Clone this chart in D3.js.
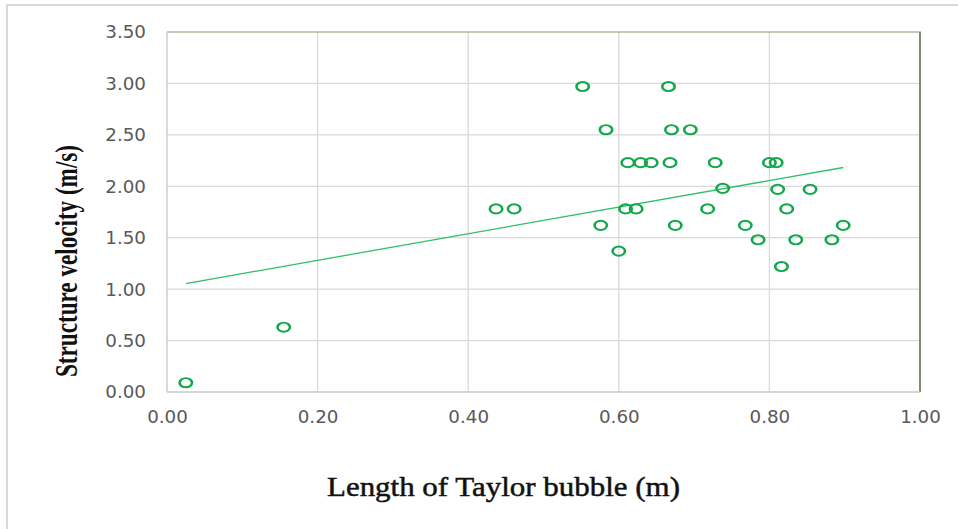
<!DOCTYPE html>
<html>
<head>
<meta charset="utf-8">
<script src="https://cdn.jsdelivr.net/npm/d3@7"></script>
<style>
  html, body { margin: 0; padding: 0; background: #fff; }
  svg { display: block; }
</style>
</head>
<body>
<svg id="chart" width="958" height="529"></svg>
<script>
// ---- data ----
const lengthX = [0.025, 0.155, 0.437, 0.461, 0.552, 0.583, 0.576, 0.600, 0.612, 0.609, 0.623, 0.629, 0.643, 0.666, 0.670, 0.668, 0.675, 0.695, 0.718, 0.728, 0.738, 0.768, 0.785, 0.800, 0.809, 0.811, 0.816, 0.823, 0.835, 0.854, 0.883, 0.898];
const velocityY = [0.09, 0.63, 1.78, 1.78, 2.97, 2.55, 1.62, 1.37, 2.23, 1.78, 1.78, 2.23, 2.23, 2.97, 2.55, 2.23, 1.62, 2.55, 1.78, 2.23, 1.98, 1.62, 1.48, 2.23, 2.23, 1.97, 1.22, 1.78, 1.48, 1.97, 1.48, 1.62];
const xTicks = [0, 0.2, 0.4, 0.6, 0.8, 1.0];
const yTicks = [0, 0.5, 1.0, 1.5, 2.0, 2.5, 3.0, 3.5];
const xTitle = "Length of Taylor bubble (m)";
const yTitle = "Structure velocity (m/s)";

const svg = d3.select("#chart");
const W = 958, H = 529;
const plot = {left: 167, right: 920, top: 32, bottom: 392};

const x = d3.scaleLinear().domain([0, 1]).range([plot.left, plot.right]);
const y = d3.scaleLinear().domain([0, 3.5]).range([plot.bottom, plot.top]);

// outer chart border
svg.append("rect").attr("x", 7).attr("y", 5).attr("width", W + 20).attr("height", H + 20)
  .attr("fill", "#fff").attr("stroke", "#d9d9d9").attr("stroke-width", 2);

// gridlines
const g = svg.append("g");
g.selectAll(".hg").data(yTicks.filter(d => d > 0 && d < 3.5)).join("line")
  .attr("x1", plot.left).attr("x2", plot.right)
  .attr("y1", d => y(d)).attr("y2", d => y(d))
  .attr("stroke", "#d9d9d9").attr("stroke-width", 1.3);
g.selectAll(".vg").data(xTicks.filter(d => d > 0 && d < 1)).join("line")
  .attr("y1", plot.top).attr("y2", plot.bottom)
  .attr("x1", d => x(d)).attr("x2", d => x(d))
  .attr("stroke", "#d9d9d9").attr("stroke-width", 1.3);

// top and right plot border (olive)
g.append("line").attr("x1", plot.left).attr("x2", plot.right + 1)
  .attr("y1", plot.top).attr("y2", plot.top)
  .attr("stroke", "#819873").attr("stroke-width", 1.2);
g.append("line").attr("x1", plot.right).attr("x2", plot.right)
  .attr("y1", plot.top).attr("y2", plot.bottom)
  .attr("stroke", "#7b8f6b").attr("stroke-width", 2);

// axes lines
g.append("line").attr("x1", plot.left).attr("x2", plot.left)
  .attr("y1", plot.top).attr("y2", plot.bottom)
  .attr("stroke", "#c8c8c8").attr("stroke-width", 1.3);
g.append("line").attr("x1", plot.left).attr("x2", plot.right)
  .attr("y1", plot.bottom).attr("y2", plot.bottom)
  .attr("stroke", "#c8c8c8").attr("stroke-width", 1.3);

// tick labels via d3 axes
const fmt = d3.format(".2f");
const yAxis = svg.append("g").attr("transform", `translate(${plot.left},0)`)
  .call(d3.axisLeft(y).tickValues(yTicks).tickFormat(fmt).tickSize(0).tickPadding(21));
const xAxis = svg.append("g").attr("transform", `translate(0,${plot.bottom})`)
  .call(d3.axisBottom(x).tickValues(xTicks).tickFormat(fmt).tickSize(0).tickPadding(18));
[yAxis, xAxis].forEach(a => {
  a.select(".domain").remove();
  a.selectAll("text").attr("fill", "#595959")
    .style("font-family", "'DejaVu Sans', Verdana, sans-serif").style("font-size", "18.3px");
});

// trendline (least squares)
const n = lengthX.length;
const mx = d3.mean(lengthX), my = d3.mean(velocityY);
let sxy = 0, sxx = 0;
for (let i = 0; i < n; i++) { sxy += (lengthX[i] - mx) * (velocityY[i] - my); sxx += (lengthX[i] - mx) ** 2; }
const slope = sxy / sxx, icpt = my - slope * mx;
const ext = d3.extent(lengthX);
svg.append("path")
  .datum(ext.map(v => [v, icpt + slope * v]))
  .attr("d", d3.line().x(d => x(d[0])).y(d => y(d[1])))
  .attr("fill", "none").attr("stroke", "#2fbf68").attr("stroke-width", 1.3);

// markers (vertically squashed rings)
svg.append("g").selectAll("circle").data(lengthX.map((v, i) => [v, velocityY[i]])).join("circle")
  .attr("r", 6.2)
  .attr("transform", d => `translate(${x(d[0])},${y(d[1])}) scale(1,0.74)`)
  .attr("fill", "none").attr("stroke", "#10a84a").attr("stroke-width", 2.6);

// titles
svg.append("text").text(xTitle)
  .attr("x", 503.5).attr("y", 495.5).attr("text-anchor", "middle")
  .attr("textLength", 353).attr("lengthAdjust", "spacingAndGlyphs")
  .style("font-family", "'Liberation Serif', 'Times New Roman', serif")
  .style("font-size", "28px").attr("fill", "#111").attr("stroke", "#111").attr("stroke-width", 0.5);

svg.append("text").text(yTitle)
  .attr("transform", "translate(77,261) rotate(-90)")
  .attr("text-anchor", "middle")
  .attr("textLength", 232).attr("lengthAdjust", "spacingAndGlyphs")
  .style("font-family", "'Liberation Serif', 'Times New Roman', serif")
  .style("font-size", "32px").style("font-weight", "bold").attr("fill", "#111");
</script>
</body>
</html>
